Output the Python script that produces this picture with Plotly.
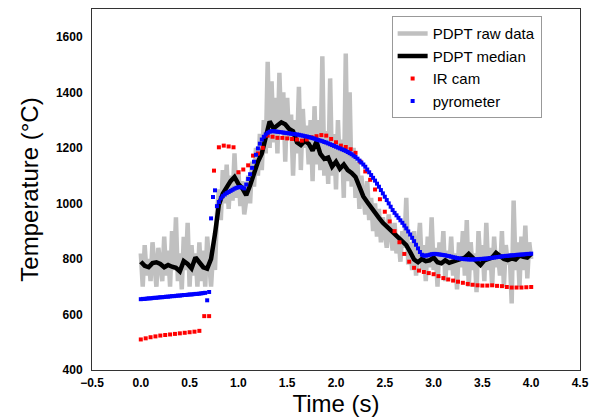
import plotly.graph_objects as go

# sample clocks (s)
t_raw = [round(0.02 * i, 2) for i in range(201)]
t_med = [round(0.04 * i, 2) for i in range(101)]
t_ir = [round(0.05 * i, 2) for i in range(81)]
t_pyro = [round(0.02 * i, 2) for i in range(201)]

# PDPT raw data (degC), 0.02 s steps
pdpt_raw = [
    820, 700, 850, 740, 800, 720, 860, 760, 700, 840,
    790, 720, 880, 740, 830, 700, 900, 760, 950, 720,
    820, 690, 880, 760, 930, 700, 850, 740, 820, 700,
    860, 720, 830, 700, 880, 760, 700, 820, 760, 960,
    1050, 940, 1120, 1000, 1140, 980, 1100, 1010, 1180, 1020,
    1120, 990, 1080, 960, 1010, 1100, 1000, 1150, 1060, 1200,
    1100, 1250, 1120, 1300, 1180, 1510, 1200, 1440, 1220, 1380,
    1180, 1470, 1260, 1400, 1150, 1380, 1230, 1320, 1100, 1300,
    1180, 1420, 1120, 1340, 1200, 1280, 1140, 1300, 1080, 1350,
    1140, 1300, 1120, 1530, 1100, 1260, 1070, 1450, 1100, 1250,
    1050, 1300, 1120, 1230, 1020, 1540, 1080, 1400, 1060, 1200,
    1020, 1150, 980, 1100, 1040, 960, 1080, 940, 1020, 900,
    1000, 880, 980, 860, 950, 900, 840, 960, 880, 830,
    930, 820, 880, 790, 900, 840, 1020, 780, 860, 760,
    900, 740, 840, 930, 760, 850, 720, 880, 770, 950,
    760, 840, 700, 860, 780, 900, 720, 830, 760, 880,
    740, 820, 690, 860, 770, 900, 740, 940, 700, 860,
    760, 820, 680, 900, 780, 850, 720, 930, 760, 840,
    700, 880, 770, 820, 740, 900, 700, 850, 780, 820,
    640, 1010, 760, 860, 700, 880, 760, 920, 730, 860,
    800,
]

# PDPT median (degC), 0.04 s steps
pdpt_median = [
    790, 775, 770, 785, 788, 782, 770, 778, 772, 768,
    755, 792, 782, 766, 805, 790, 770, 765, 800, 890,
    995, 1035, 1060, 1080, 1095, 1070, 1055, 1030, 1065, 1110,
    1150, 1180, 1240, 1295, 1270, 1280, 1292, 1285, 1268, 1260,
    1220, 1210, 1225, 1215, 1190, 1222, 1178, 1160, 1165, 1132,
    1150, 1125, 1140, 1120, 1110, 1095, 1060, 1025, 1005, 985,
    962, 948, 930, 915, 903, 890, 877, 866, 850, 825,
    798, 788, 800, 792, 795, 805, 788, 784, 795, 786,
    790, 792, 800, 805, 818, 805, 792, 778, 795, 800,
    805, 822, 812, 800, 796, 802, 798, 812, 808, 805,
    818,
]

# IR camera (degC), 0.05 s steps
ir_cam = [
    510, 514, 518, 521, 524, 526, 528, 530, 532, 534,
    536, 538, 541, 594, 594, 1118, 1202, 1208, 1205, 1202,
    1112, 1122, 1137, 1172, 1180, 1200, 1244, 1240, 1236, 1236,
    1234, 1232, 1230, 1226, 1230, 1238, 1242, 1246, 1244, 1232,
    1220, 1208, 1203, 1195, 1182, 1150, 1115, 1085, 1050, 1015,
    970, 935, 900, 860, 818, 790, 768, 758, 753, 749,
    745, 738, 731, 726, 722, 718, 714, 710, 707, 705,
    704, 704, 705, 703, 702, 699, 697, 697, 697, 698,
    699,
]

# pyrometer (degC), 0.02 s steps
pyrometer = [
    655, 656, 656, 657, 658, 658, 659, 660, 660, 661,
    662, 662, 663, 664, 664, 665, 666, 666, 667, 668,
    668, 669, 670, 670, 671, 672, 672, 673, 674, 674,
    675, 676, 677, 678, 651, 681, 946, 1023, 1047, 990,
    1005, 1018, 1026, 1032, 1037, 1041, 1045, 1049, 1053, 1056,
    1058, 1059, 1057, 1054, 1068, 1088, 1105, 1128, 1150, 1175,
    1198, 1215, 1230, 1240, 1248, 1254, 1258, 1260, 1260, 1259,
    1258, 1257, 1256, 1255, 1254, 1253, 1252, 1251, 1250, 1249,
    1248, 1247, 1245, 1244, 1242, 1241, 1239, 1237, 1235, 1233,
    1230, 1228, 1226, 1224, 1221, 1219, 1216, 1213, 1210, 1207,
    1204, 1201, 1198, 1195, 1192, 1189, 1185, 1181, 1177, 1172,
    1167, 1161, 1154, 1147, 1140, 1132, 1122, 1112, 1102, 1092,
    1082, 1071, 1060, 1048, 1036, 1024, 1012, 1000, 988, 976,
    966, 957, 948, 939, 930, 920, 910, 899, 888, 876,
    864, 851, 838, 825, 815, 812, 812, 813, 815, 817,
    818, 818, 817, 816, 815, 814, 813, 811, 810, 808,
    806, 805, 803, 802, 801, 800, 799, 799, 798, 798,
    798, 798, 799, 799, 800, 800, 801, 801, 802, 803,
    804, 805, 806, 807, 808, 809, 810, 811, 811, 812,
    813, 813, 814, 815, 815, 816, 816, 817, 818, 818,
    819,
]

font = "Liberation Sans, Arial, sans-serif"

fig = go.Figure()
fig.add_trace(go.Scatter(x=t_raw, y=pdpt_raw, mode="lines", name="PDPT raw data",
                         line=dict(color="#c0c0c0", width=4.5)))
fig.add_trace(go.Scatter(x=t_med, y=pdpt_median, mode="lines", name="PDPT median",
                         line=dict(color="black", width=4.5)))
fig.add_trace(go.Scatter(x=t_ir, y=ir_cam, mode="markers", name="IR cam",
                         marker=dict(color="#ff0000", size=4, symbol="square")))
fig.add_trace(go.Scatter(x=t_pyro, y=pyrometer, mode="markers", name="pyrometer",
                         marker=dict(color="#0000ff", size=4, symbol="square")))

axis_common = dict(showgrid=False, zeroline=False, showline=True, mirror=True,
                   linecolor="#333333", linewidth=1, ticks="",
                   tickfont=dict(family=font, size=12, color="black", weight="bold"))

fig.update_xaxes(range=[-0.5, 4.5], dtick=0.5, tickformat=".1f", ticklabelstandoff=2,
                 title=dict(text="Time (s)", font=dict(family=font, size=24, color="black"), standoff=4),
                 **axis_common)
fig.update_yaxes(range=[400, 1700], tickvals=[400, 600, 800, 1000, 1200, 1400, 1600],
                 ticklabelstandoff=6,
                 title=dict(text="Temperature (°C)", font=dict(family=font, size=24, color="black"), standoff=10),
                 **axis_common)

# page body adds an 8px margin, so the figure is 8px smaller each way
fig.update_layout(
    width=592, height=411,
    margin=dict(l=84, r=20, t=1, b=49),
    plot_bgcolor="white", paper_bgcolor="white",
    showlegend=True,
    legend=dict(x=0.614, y=0.98, xanchor="left", yanchor="top",
                bgcolor="white", bordercolor="#999999", borderwidth=1,
                font=dict(family=font, size=15, color="black"),
                tracegroupgap=0, itemwidth=30),
)

fig.write_html("out.html")
